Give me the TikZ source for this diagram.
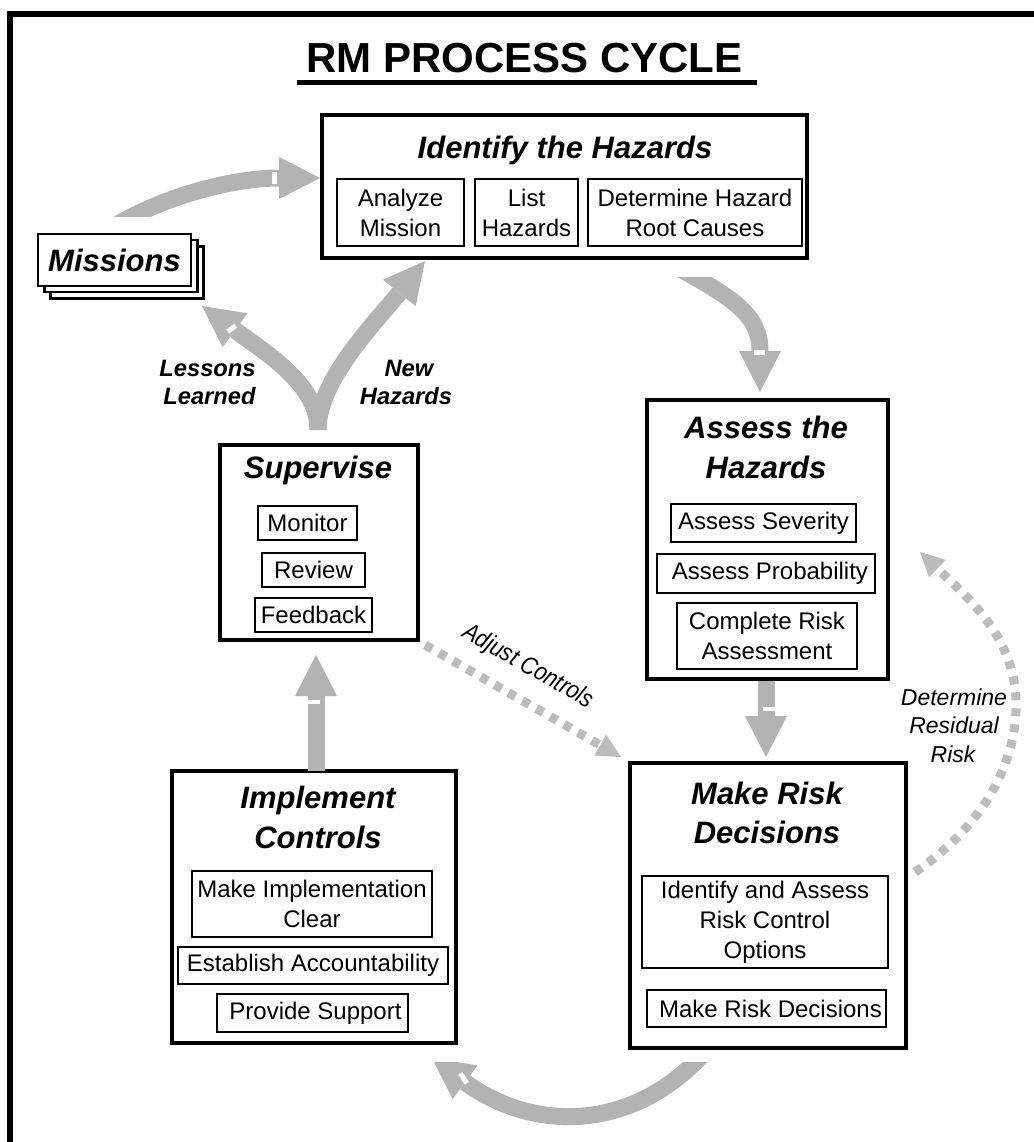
\documentclass[tikz,border=0pt]{standalone}
\usepackage{fontspec}
\setmainfont{Liberation Sans}
\newfontfamily\narrowfont[FakeStretch=0.86]{Liberation Sans}
\usetikzlibrary{arrows.meta}
\definecolor{agray}{RGB}{179,179,179}
\definecolor{dgray}{RGB}{188,188,188}
\begin{document}
\begin{tikzpicture}[x=0.5pt,y=-0.5pt,
  big/.style={draw, line width=2pt, fill=white, inner sep=0pt},
  mbox/.style={draw, line width=1.4pt, fill=white, inner sep=0pt, minimum width=76.5pt, minimum height=26pt},
  sub/.style={draw, line width=1pt, inner sep=0pt, align=center, font=\fontsize{12}{15}\selectfont},
  ttl/.style={font=\fontsize{15.5}{20}\selectfont\bfseries\itshape, inner sep=0pt, anchor=base},
  lbl/.style={font=\fontsize{11.85}{14}\selectfont\bfseries\itshape, inner sep=0pt, anchor=base},
  dlbl/.style={font=\fontsize{11.5}{14}\selectfont\itshape, inner sep=0pt, anchor=base},
  fat/.style={draw=agray, line width=8.5pt, -{Triangle[width=21pt,length=20.5pt,fill=agray,line width=0pt]}},
  dotarrow/.style={draw=dgray, line width=4.5pt, dash pattern=on 4pt off 4pt, -{Triangle[width=12pt,length=12pt,fill=dgray,line width=0pt]}},
  notch/.style={fill=white}
]
\useasboundingbox (0,0) rectangle (1034,1142);
% outer frame
\draw[line width=3pt] (10,1142) -- (10,13.5) -- (1040,13.5);
% title
\node[font=\fontsize{21}{25}\selectfont\bfseries, inner sep=0pt, anchor=base] (title) at (524.5,72) {RM PROCESS CYCLE};
\draw[line width=2.5pt] (297,82) -- (757,82);

% Identify the Hazards
\node[big, minimum width=242.5pt, minimum height=71.5pt] (idf) at (564.5,186.5) {};
\node[ttl] (idft) at (565,158) {Identify the Hazards};
\node[sub, minimum width=63.5pt, minimum height=33.5pt] (am) at (400.5,212.5) {Analyze\\Mission};
\node[sub, minimum width=51.5pt, minimum height=33.5pt] (lh) at (526.5,212.5) {List\\Hazards};
\node[sub, minimum width=107pt, minimum height=33.5pt] (dh) at (695,212.5) {Determine Hazard\\Root Causes};

% Missions
\node[mbox] (m3) at (127,272.5) {};
\node[mbox] (m2) at (121,266) {};
\node[mbox, font=\fontsize{15.5}{20}\selectfont\bfseries\itshape] (mis) at (114.5,260) {Missions};

% Assess the Hazards
\node[big, minimum width=120.5pt, minimum height=139.5pt] (ass) at (767.5,539.5) {};
\node[ttl] (asst1) at (766,438) {Assess the};
\node[ttl] (asst2) at (766,478) {Hazards};
\node[sub, minimum width=92.5pt, minimum height=19pt] (as) at (763.5,523) {Assess Severity};
\node[sub, minimum width=109pt, minimum height=19.5pt] (ap) at (766,573.5) {\hspace{4pt}Assess Probability};
\node[sub, minimum width=90pt, minimum height=33pt] (cr) at (767,636) {Complete Risk\\Assessment};

% Make Risk Decisions
\node[big, minimum width=138pt, minimum height=142.5pt] (mrd) at (768,905.5) {};
\node[ttl] (mrdt1) at (767,804) {Make Risk};
\node[ttl] (mrdt2) at (767,843) {Decisions};
\node[sub, minimum width=123pt, minimum height=46pt] (ia) at (765,922) {Identify and Assess\\Risk Control\\Options};
\node[sub, minimum width=119.5pt, minimum height=18.5pt] (mr) at (766.5,1008.5) {\hspace{4pt}Make Risk Decisions};

% Implement Controls
\node[big, minimum width=142pt, minimum height=136pt] (imp) at (314,907) {};
\node[ttl] (impt1) at (318,808) {Implement};
\node[ttl] (impt2) at (318,848) {Controls};
\node[sub, minimum width=120pt, minimum height=33pt] (mi) at (312,904) {Make Implementation\\Clear};
\node[sub, minimum width=135pt, minimum height=18.5pt] (ea) at (313,965.5) {Establish Accountability};
\node[sub, minimum width=95.5pt, minimum height=19pt] (ps) at (312.5,1013) {\hspace{3pt}Provide Support};

% Supervise
\node[big, minimum width=99pt, minimum height=97.5pt] (sup) at (319,542.5) {};
\node[ttl] (supt) at (318,478) {Supervise};
\node[sub, minimum width=49.5pt, minimum height=17pt] (mo) at (307.5,523) {Monitor};
\node[sub, minimum width=51.5pt, minimum height=17pt] (rv) at (313.5,570) {Review};
\node[sub, minimum width=58.5pt, minimum height=17pt] (fb) at (313.5,615) {Feedback};

% fat arrows
\begin{scope}
\clip (0,0) rectangle (1034,216);
\draw[fat] (115,226) .. controls (166,195) and (235,178) .. (idf.west |- 0,178);
\end{scope}
\fill[notch] (272,172) rectangle (277,184);
\begin{scope}
\clip (0,277) rectangle (1034,1142);
\draw[fat] (677,267) .. controls (734,299) and (760,315) .. (760,392);
\end{scope}
\fill[notch] (754,350) rectangle (765,355);
\draw[fat, shorten >=3pt] (ass.south -| 766,0) -- (766,763);
\fill[notch] (763,707) rectangle (775,711);
\draw[fat, shorten >=7.5pt] (316,771) -- (316,640);
\fill[notch] (308,700) rectangle (320,704);
\begin{scope}
\clip (0,1062) rectangle (1034,1142);
\draw[fat] (705,1052) .. controls (630,1135) and (530,1130) .. (432,1058);
\end{scope}
\fill[notch, rotate around={33:(464,1078)}] (461,1072) rectangle (466,1084);
% Y arrow
\draw[fat] (318,430) .. controls (318,385) and (269,355) .. (202,306);
\fill[notch, rotate around={-54:(232,329)}] (229,324) rectangle (234,334);
\draw[fat] (318,430) .. controls (318,380) and (375,323) .. (425,261);

% dotted arrows
\draw[dotarrow, shorten <=3pt, shorten >=4pt] (sup.south east) -- (mrd.north west);
\coordinate (rr1) at (915,872);
\coordinate (rr2) at (920,552);
\draw[dotarrow] (rr1) .. controls (985,825) and (1018,760) .. (1016,700) .. controls (1014,635) and (965,595) .. (rr2);

% labels
\node[lbl, anchor=base east] (ll1) at (256,376) {Lessons};
\node[lbl, anchor=base east] (ll2) at (256,404) {Learned};
\node[lbl] (nh1) at (409,376) {New};
\node[lbl] (nh2) at (406,404) {Hazards};
\node[dlbl] (dr1) at (954,705) {Determine};
\node[dlbl] (dr2) at (954,733) {Residual};
\node[dlbl] (dr3) at (953,762) {Risk};
\node[font=\fontsize{12.5}{15}\selectfont\narrowfont\itshape, inner sep=0pt, rotate=-29.5] (adj) at (528,667) {Adjust Controls};
\end{tikzpicture}
\end{document}
